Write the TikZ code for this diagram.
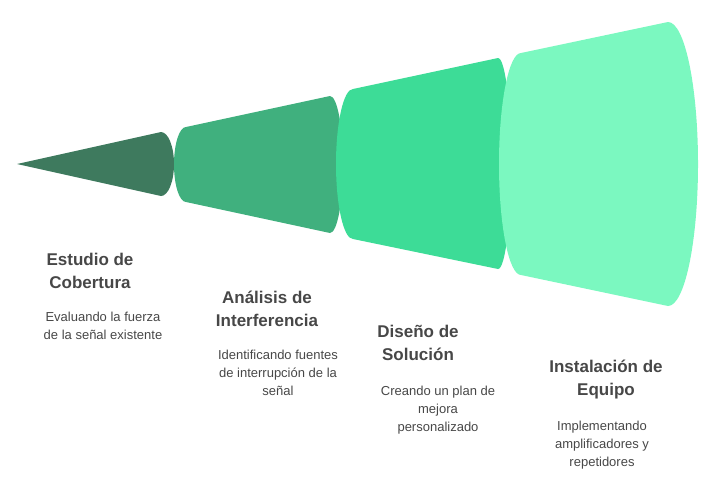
\documentclass[tikz,border=0pt]{standalone}
\usepackage{fontspec}
\setmainfont{Liberation Sans}
\definecolor{txt}{HTML}{474747}
\definecolor{cA}{HTML}{3E7A5E}
\definecolor{cB}{HTML}{40B07E}
\definecolor{cC}{HTML}{3DDC97}
\definecolor{cD}{HTML}{7BF8C0}
\tikzset{
  ttl/.style={text=txt,font=\fontsize{17}{23}\selectfont\bfseries,align=center,inner sep=0pt},
  dsc/.style={text=txt,font=\fontsize{13}{18}\selectfont,align=center,inner sep=0pt}
}
\newcommand\seg[9]{%
  \fill[#9] (#1,#2) -- (#5,#6) arc[start angle=90,end angle=-90,x radius=#8pt,y radius={(#7-#6)/2*1pt}]
   -- (#1,#3) arc[start angle=270,end angle=90,x radius=#4pt,y radius={(#3-#2)/2*1pt}] -- cycle;}
\begin{document}
\begin{tikzpicture}[x=1pt,y=-1pt]
\useasboundingbox (0,0) rectangle (719,491);
\fill[cA] (17,164) -- (161,132) arc[start angle=90,end angle=-90,x radius=13pt,y radius=32pt] -- cycle;
\seg{186}{127}{202}{12}{330}{96}{233}{13}{cB}
\seg{353}{89}{239}{17}{498}{58}{269}{13}{cC}
\seg{521}{53}{275}{22}{668}{22}{306}{30}{cD}
\node[ttl] (t1) at (90,271) {Estudio de\\Cobertura};
\node[dsc] (d1) at (103,326) {Evaluando la fuerza\\de la señal existente};
\node[ttl] (t2) at (267,309) {Análisis de\\Interferencia};
\node[dsc] (d2) at (278,373) {Identificando fuentes\\de interrupción de la\\señal};
\node[ttl] (t3) at (418,343) {Diseño de\\Solución};
\node[dsc] (d3) at (438,410) {Creando un plan de\\mejora\\personalizado};
\node[ttl] (t4) at (606,380) {Instalación de\\Equipo};
\node[dsc] (d4) at (602,445) {Implementando\\amplificadores y\\repetidores};
\end{tikzpicture}
\end{document}
